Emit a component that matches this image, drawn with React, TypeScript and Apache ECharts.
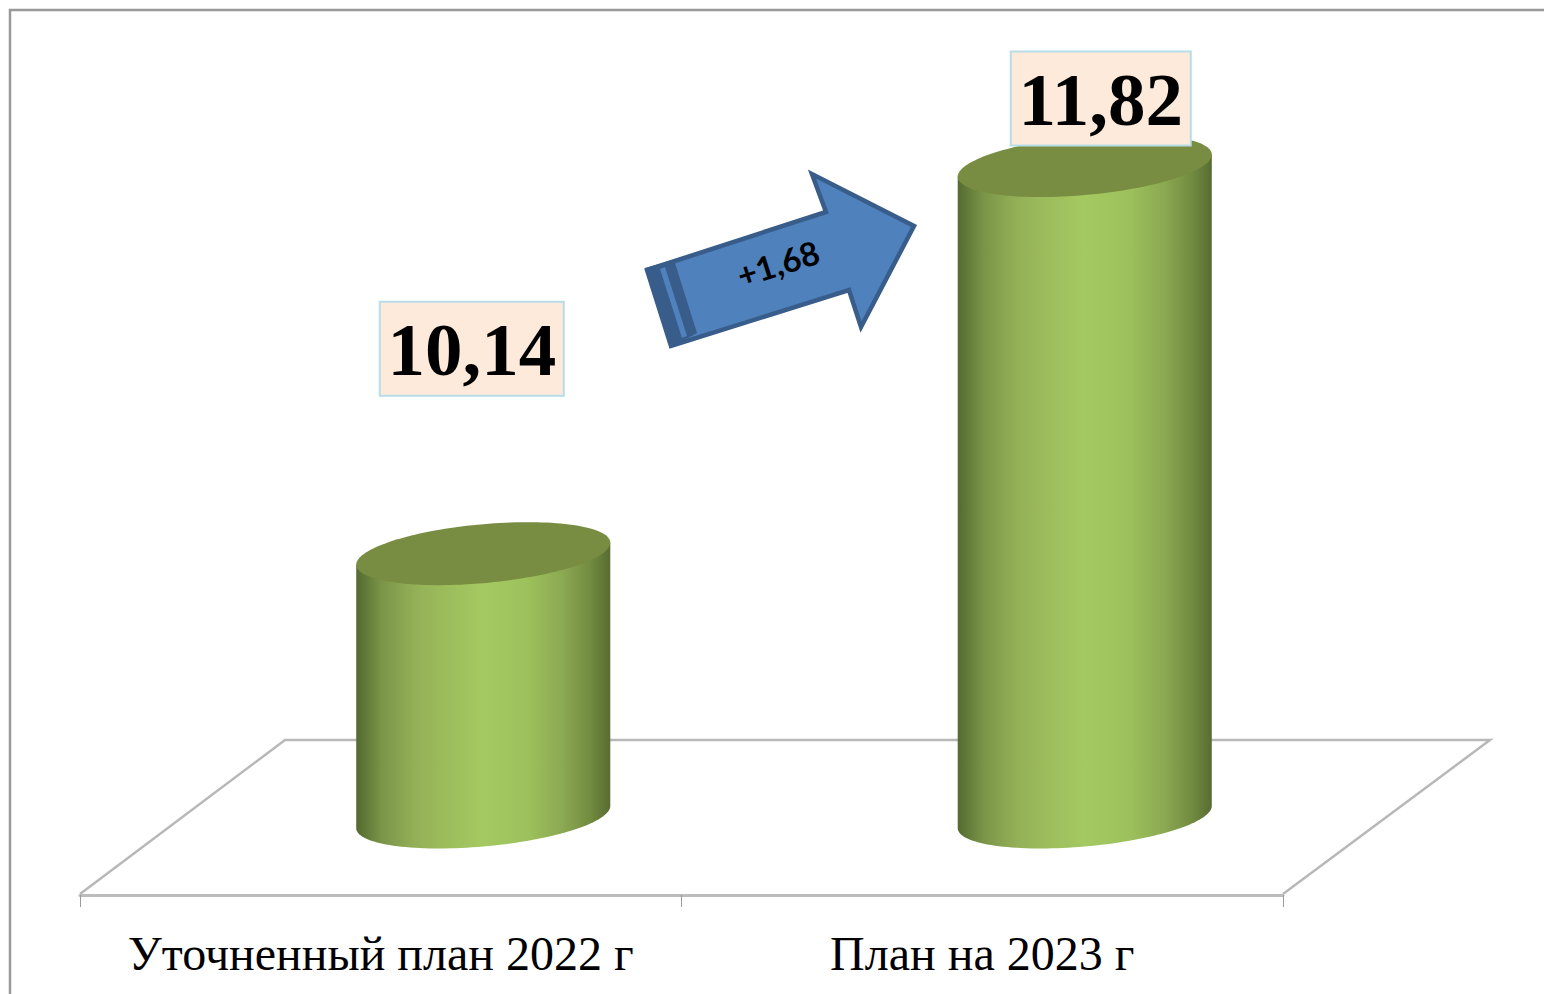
import React, { useEffect, useRef } from "react";
import * as echarts from "echarts";

const categories = ["Уточненный план 2022 г", "План на 2023 г"];
const values = [10.14, 11.82];
const deltaLabel = "+1,68";

const LABEL_OFFSETS = [[-11.5, -205], [16, -67]];
const LABEL_WIDTHS = [184, 180];
const SERIF = '"Liberation Serif", "Times New Roman", serif';

const bodyStops = [
  { offset: 0, color: "#546a30" },
  { offset: 0.04, color: "#627b39" },
  { offset: 0.1, color: "#7a9448" },
  { offset: 0.23, color: "#93b057" },
  { offset: 0.36, color: "#9dbd5c" },
  { offset: 0.5, color: "#a5c962" },
  { offset: 0.68, color: "#9cc05b" },
  { offset: 0.81, color: "#8ca953" },
  { offset: 0.92, color: "#728c40" },
  { offset: 1, color: "#586c32" },
];

function ellipsePoint(cx: number, cy: number, a: number, t: number) {
  const b = 31.5;
  const phi = -0.3576;
  return [cx + a * Math.cos(t), cy + b * Math.sin(t + phi)];
}

function renderCylinder(params: any, api: any) {
  const i = api.value(0);
  const top = api.coord([i, api.value(1)]);
  const base = api.coord([i, 9]);
  const a = api.size([1, 0])[0] * 0.2112;
  const body: number[][] = [];
  const cap: number[][] = [];
  const n = 72;
  body.push(ellipsePoint(top[0], top[1], a, Math.PI));
  body.push(ellipsePoint(top[0], top[1], a, 0));
  for (let k = 0; k <= n; k++) body.push(ellipsePoint(base[0], base[1], a, (Math.PI * k) / n));
  for (let k = 0; k < n * 2; k++) cap.push(ellipsePoint(top[0], top[1], a, (Math.PI * k) / n));
  return {
    type: "group",
    children: [
      {
        type: "polygon",
        shape: { points: body },
        style: { fill: new echarts.graphic.LinearGradient(0, 0, 1, 0, bodyStops) },
      },
      { type: "polygon", shape: { points: cap }, style: { fill: "#788d42" } },
    ],
  };
}

function renderValueBox(params: any, api: any) {
  const i = api.value(0);
  const top = api.coord([i, api.value(1)]);
  const [dx, dy] = LABEL_OFFSETS[i];
  const w = LABEL_WIDTHS[i];
  const cx = top[0] + dx;
  const cy = top[1] + dy;
  return {
    type: "group",
    children: [
      {
        type: "rect",
        shape: { x: cx - w / 2, y: cy - 47, width: w, height: 94 },
        style: { fill: "#fdeadb", stroke: "#b7dde8", lineWidth: 2 },
      },
      {
        type: "text",
        style: {
          x: cx,
          y: cy + 1,
          text: String(api.value(1)).replace(".", ","),
          fill: "#000",
          font: `bold 75px ${SERIF}`,
          textAlign: "center",
          textVerticalAlign: "middle",
        },
      },
    ],
  };
}

export default function App() {
  const ref = useRef<HTMLDivElement>(null);
  useEffect(() => {
    const chart = echarts.init(ref.current!, null, { renderer: "svg" });
    const data = values.map((v, i) => [i, v]);
    chart.setOption({
      animation: false,
      backgroundColor: "#ffffff",
      grid: [
        { left: 80, width: 1203, top: 100, height: 795 },
        { left: 182.5, width: 1203, top: 124, height: 693 },
      ],
      xAxis: [
        {
          type: "category",
          gridIndex: 0,
          data: categories,
          axisLine: { show: true, lineStyle: { color: "#bcbcbc", width: 3 } },
          axisTick: { show: true, length: 12, lineStyle: { color: "#9a9a9a", width: 1 } },
          axisLabel: {
            color: "#000",
            fontFamily: SERIF,
            fontSize: 48,
            margin: 34,
            interval: 0,
          },
          splitLine: { show: false },
        },
        { type: "category", gridIndex: 1, data: categories, show: false },
      ],
      yAxis: [
        { type: "value", gridIndex: 0, min: 0, max: 1, show: false },
        { type: "value", gridIndex: 1, min: 9, max: 12, show: false },
      ],
      graphic: [
        {
          type: "polyline",
          z: 0,
          shape: { points: [[80, 894], [285, 740], [1490, 740], [1283, 894]] },
          style: { stroke: "#b8b8b8", lineWidth: 2.5, fill: "none" },
        },
        {
          type: "polyline",
          z: 0,
          shape: { points: [[10, 994], [10, 10], [1544, 10]] },
          style: { stroke: "#999999", lineWidth: 2.5, fill: "none" },
        },
        {
          type: "polygon",
          z: 5,
          shape: {
            points: [[647, 270], [826, 212], [812, 174], [914, 226], [861, 327], [849, 290], [671, 346]],
          },
          style: { fill: "#4f81bd", stroke: "#385d8a", lineWidth: 4.5 },
        },
        {
          type: "polygon",
          z: 6,
          shape: { points: [[645, 268], [674, 260], [697, 333], [670, 348]] },
          style: { fill: "#385d8a" },
        },
        {
          type: "polygon",
          z: 7,
          shape: { points: [[660, 269], [665, 267], [687, 336], [682, 338]] },
          style: { fill: "#4f81bd" },
        },
        {
          type: "text",
          z: 8,
          x: 778,
          y: 263,
          rotation: (17.6 * Math.PI) / 180,
          style: {
            text: deltaLabel,
            fill: "#000",
            font: 'bold 33px Lato, "Open Sans", sans-serif',
            textAlign: "center",
            textVerticalAlign: "middle",
          },
        },
      ],
      series: [
        {
          type: "custom",
          xAxisIndex: 1,
          yAxisIndex: 1,
          z: 2,
          clip: false,
          renderItem: renderCylinder,
          encode: { x: 0, y: 1 },
          data,
        },
        {
          type: "custom",
          xAxisIndex: 1,
          yAxisIndex: 1,
          z: 4,
          clip: false,
          renderItem: renderValueBox,
          encode: { x: 0, y: 1 },
          data,
        },
      ],
    });
    return () => chart.dispose();
  }, []);
  return (
    <div
      ref={ref}
      style={{ position: "fixed", left: 0, top: 0, width: 1544, height: 994 }}
    />
  );
}
